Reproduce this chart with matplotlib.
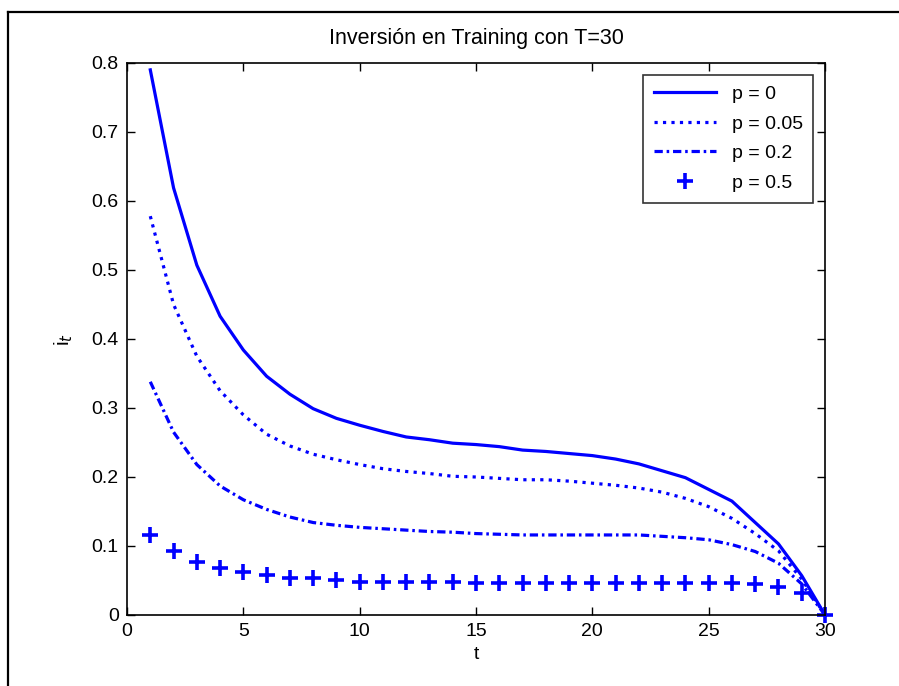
import numpy as np
import matplotlib
matplotlib.use('Agg')
import matplotlib.pyplot as plt
from matplotlib.lines import Line2D

plt.rcParams['font.family'] = ['Liberation Sans', 'DejaVu Sans']

# periodos
t = np.arange(1, 31)

# inversion en training para cada p
i_p0 = [0.790, 0.619, 0.507, 0.433, 0.384, 0.346, 0.320, 0.299, 0.285, 0.275,
        0.266, 0.258, 0.254, 0.249, 0.247, 0.244, 0.239, 0.237, 0.234, 0.231,
        0.226, 0.219, 0.209, 0.199, 0.182, 0.165, 0.134, 0.103, 0.057, 0.0]
i_p005 = [0.578, 0.450, 0.375, 0.325, 0.290, 0.262, 0.245, 0.233, 0.225, 0.218,
          0.212, 0.208, 0.205, 0.201, 0.200, 0.198, 0.196, 0.196, 0.194, 0.191,
          0.188, 0.184, 0.178, 0.169, 0.157, 0.140, 0.118, 0.093, 0.052, 0.0]
i_p02 = [0.338, 0.265, 0.218, 0.187, 0.167, 0.153, 0.142, 0.134, 0.130, 0.127,
         0.125, 0.123, 0.121, 0.120, 0.118, 0.117, 0.116, 0.116, 0.116, 0.116,
         0.116, 0.116, 0.114, 0.112, 0.109, 0.102, 0.092, 0.075, 0.045, 0.0]
i_p05 = [0.116, 0.093, 0.077, 0.068, 0.063, 0.058, 0.053, 0.053, 0.050, 0.048,
         0.048, 0.048, 0.048, 0.048, 0.046, 0.046, 0.046, 0.046, 0.046, 0.046,
         0.046, 0.046, 0.046, 0.046, 0.046, 0.046, 0.045, 0.041, 0.032, 0.0]

etiquetas = ['p = 0', 'p = 0.05', 'p = 0.2', 'p = 0.5']

fig = plt.figure(figsize=(8.99, 6.86), dpi=100)
ax = fig.add_axes([0.1413, 0.1035, 0.7764, 0.8047])

azul = '#0000ff'
ax.plot(t, i_p0, '-', color=azul, lw=2.3, label=etiquetas[0])
ax.plot(t, i_p005, ':', color=azul, lw=2.3, label=etiquetas[1])
ax.plot(t, i_p02, '-.', color=azul, lw=2.3, dashes=(2.6, 1.2, 0.8, 1.2),
        label=etiquetas[2])
ax.plot(t, i_p05, '+', color=azul, ms=11, mew=2.6, clip_on=False,
        label=etiquetas[3])

ax.set_xlim(0, 30)
ax.set_ylim(0, 0.8)
ax.set_xticks(np.arange(0, 31, 5))
ax.set_yticks(np.arange(0, 0.81, 0.1))
ax.set_yticklabels(['0', '0.1', '0.2', '0.3', '0.4', '0.5', '0.6', '0.7', '0.8'])
ax.tick_params(direction='in', top=True, right=True, length=6, width=1,
               labelsize=14, pad=6)
for s in ax.spines.values():
    s.set_linewidth(1.2)

ax.set_title('Inversión en Training con T=30', fontsize=15.5, pad=14)
ax.set_xlabel('t', fontsize=14, labelpad=4)
ax.set_ylabel('i$_t$', fontsize=15, labelpad=12)

leg = ax.legend(loc='upper right', fontsize=14, frameon=True, fancybox=False,
                edgecolor='black', borderaxespad=0.6, handlelength=3.2,
                labelspacing=0.62, borderpad=0.55)
leg.get_frame().set_linewidth(1.2)

# marco exterior de la figura
fig.add_artist(Line2D([0.0089, 0.0089], [0, 0.9825], color='black', lw=1.6))
fig.add_artist(Line2D([0.0089, 1], [0.9825, 0.9825], color='black', lw=1.6))

fig.savefig('out.png', dpi=100)
